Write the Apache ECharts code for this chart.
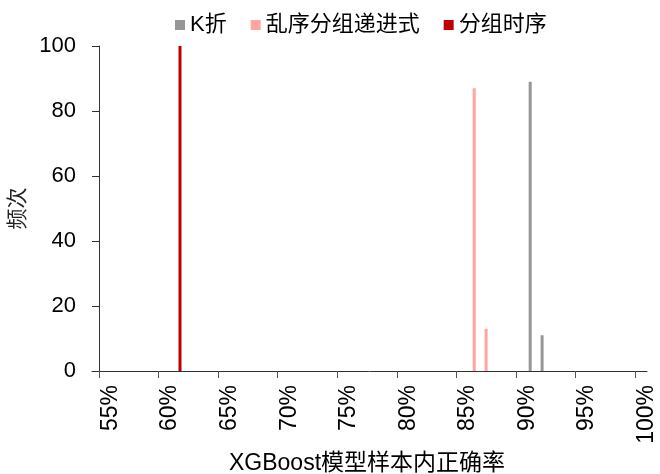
<!DOCTYPE html>
<html>
<head>
<meta charset="utf-8">
<script src="https://cdn.jsdelivr.net/npm/echarts@6/dist/echarts.min.js"></script>
<style>html,body{margin:0;padding:0;background:#fff}#c{width:660px;height:474px}</style>
</head>
<body>
<div id="c"></div>
<script>
// Data
const seriesNames = ['K折', '乱序分组递进式', '分组时序'];
const kfoldData = [[91.2, 89], [92.2, 11]];
const shuffleData = [[86.5, 87], [87.5, 13]];
const timeData = [[61.8, 100]];
const xTicks = [55, 60, 65, 70, 75, 80, 85, 90, 95, 100];
const yTicks = [0, 20, 40, 60, 80, 100];
const xName = 'XGBoost模型样本内正确率';
const yName = '频次';

const FONT = "'Liberation Sans', 'Noto Sans CJK SC', sans-serif";
const colors = ['#969696', '#FFA3A3', '#C00000'];

const chart = echarts.init(document.getElementById('c'), null, {renderer: 'canvas'});
const mkBar = (name, data, color) => ({
  name, type: 'bar', xAxisIndex: 1, yAxisIndex: 1, data,
  barWidth: 3, barGap: '-100%', itemStyle: {color}, emphasis: {disabled: true}
});
chart.setOption({
  animation: false,
  backgroundColor: '#fff',
  textStyle: {fontFamily: FONT},
  color: colors,
  legend: {
    left: 170, top: 9, icon: 'rect', itemWidth: 10, itemHeight: 10, itemGap: 24, itemStyle: {borderWidth: 0},
    textStyle: {fontSize: 22, color: '#000', fontFamily: FONT},
    data: seriesNames
  },
  grid: [
    {left: 92, right: 13, top: 46, bottom: 103, outerBoundsMode: 'none', containLabel: false},
    {left: 99, right: 25, top: 46, bottom: 103, outerBoundsMode: 'none', containLabel: false}
  ],
  xAxis: [
    {gridIndex: 0, type: 'value', min: 0, max: 1, axisLine: {show: true, lineStyle: {color: '#333', width: 1}},
     axisTick: {show: false}, axisLabel: {show: false}, splitLine: {show: false}},
    {gridIndex: 1, type: 'value', min: xTicks[0], max: xTicks[xTicks.length - 1], interval: 5,
     name: xName, nameLocation: 'middle', nameGap: 74,
     nameTextStyle: {fontSize: 23, color: '#000', fontFamily: FONT},
     axisLine: {show: false},
     axisTick: {show: true, length: 7, lineStyle: {color: '#555'}},
     axisLabel: {rotate: 90, fontSize: 23, color: '#000', margin: 14, verticalAlign: 'top',
       formatter: v => v + '%'},
     splitLine: {show: false}}
  ],
  yAxis: [
    {gridIndex: 0, type: 'value', show: false, min: 0, max: 100},
    {gridIndex: 1, type: 'value', min: yTicks[0], max: yTicks[yTicks.length - 1], interval: 20,
     name: yName, nameLocation: 'middle', nameGap: 66,
     nameTextStyle: {fontSize: 21, color: '#222', fontFamily: FONT},
     axisLine: {show: true, lineStyle: {color: '#333'}},
     axisTick: {show: true, length: 7, lineStyle: {color: '#333'}},
     axisLabel: {fontSize: 22, color: '#000', margin: 23},
     splitLine: {show: false}}
  ],
  series: [
    mkBar(seriesNames[0], kfoldData, colors[0]),
    mkBar(seriesNames[1], shuffleData, colors[1]),
    mkBar(seriesNames[2], timeData, colors[2])
  ]
});
</script>
</body>
</html>
